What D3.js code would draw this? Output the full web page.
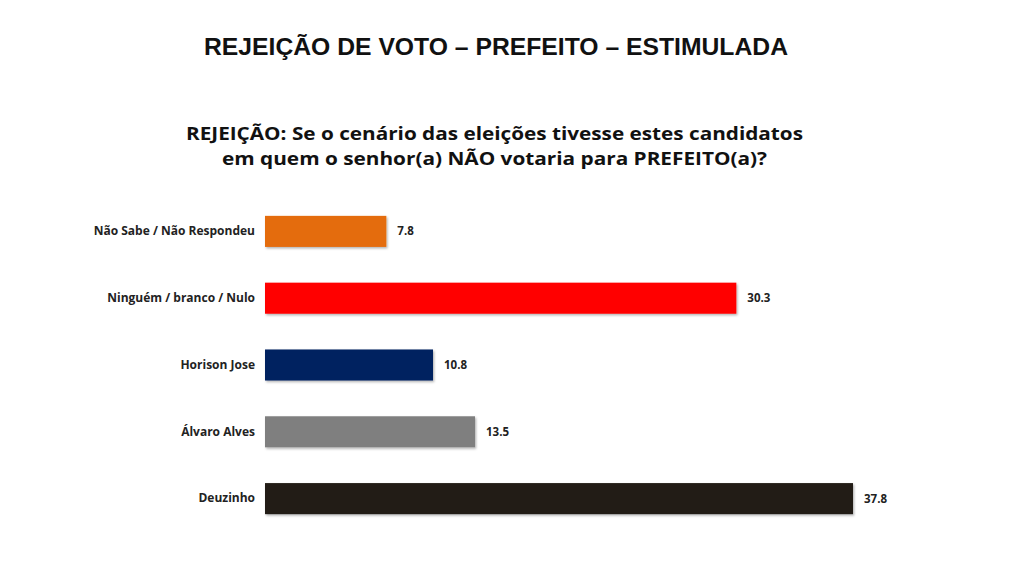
<!DOCTYPE html>
<html>
<head>
<meta charset="utf-8">
<script src="https://cdn.jsdelivr.net/npm/d3@7"></script>
<style>
  html, body { margin: 0; padding: 0; background: #ffffff; }
  svg { display: block; }
</style>
</head>
<body>
<svg id="chart" width="1024" height="571"></svg>
<script>
const title = "REJEIÇÃO DE VOTO – PREFEITO – ESTIMULADA";
const subtitleLines = [
  "REJEIÇÃO: Se o cenário das eleições tivesse estes candidatos",
  "em quem o senhor(a) NÃO votaria para PREFEITO(a)?"
];
const categories = ["Não Sabe / Não Respondeu", "Ninguém / branco / Nulo", "Horison Jose", "Álvaro Alves", "Deuzinho"];
const values = [7.8, 30.3, 10.8, 13.5, 37.8];
const colors = ["#E46C0A", "#FF0000", "#002060", "#7F7F7F", "#221E14"];

const svg = d3.select("#chart");

const defs = svg.append("defs");
const f = defs.append("filter").attr("id", "shadow").attr("x", "-5%").attr("y", "-20%").attr("width", "115%").attr("height", "150%");
f.append("feDropShadow").attr("dx", 1.2).attr("dy", 1.5).attr("stdDeviation", 1).attr("flood-color", "#000").attr("flood-opacity", 0.3);

// Title
svg.append("text")
  .attr("x", 496).attr("y", 55)
  .attr("text-anchor", "middle")
  .attr("font-family", "'Liberation Sans', Arial, sans-serif")
  .attr("font-weight", "bold")
  .attr("font-size", 24)
  .attr("fill", "#111")
  .attr("textLength", 584)
  .attr("lengthAdjust", "spacingAndGlyphs")
  .text(title);

// Subtitle
const subW = [617, 545];
svg.selectAll("text.sub").data(subtitleLines).join("text")
  .attr("class", "sub")
  .attr("x", 494.5)
  .attr("y", (d, i) => 139.5 + i * 25)
  .attr("text-anchor", "middle")
  .attr("font-family", "'Open Sans', sans-serif")
  .attr("font-weight", "bold")
  .attr("font-size", 18.2)
  .attr("fill", "#111")
  .attr("textLength", (d, i) => subW[i])
  .attr("lengthAdjust", "spacingAndGlyphs")
  .text(d => d);

const x = d3.scaleLinear().domain([0, 37.8]).range([265, 853]);
const y = d3.scaleBand().domain(categories).range([198, 532]).paddingInner(0.535).paddingOuter(0.2675);

svg.selectAll("rect.bar").data(values).join("rect")
  .attr("class", "bar")
  .attr("x", x(0))
  .attr("y", (d, i) => y(categories[i]))
  .attr("width", d => x(d) - x(0))
  .attr("height", y.bandwidth())
  .attr("fill", (d, i) => colors[i])
  .attr("filter", "url(#shadow)");

const yAxis = d3.axisLeft(y).tickSize(0).tickPadding(10);
const ga = svg.append("g").attr("transform", `translate(${x(0)},0)`).call(yAxis);
ga.select(".domain").remove();
ga.selectAll("text")
  .attr("font-family", "'Open Sans', sans-serif")
  .attr("font-weight", "bold")
  .attr("font-size", 12)
  .attr("fill", "#222");

svg.selectAll("text.val").data(values).join("text")
  .attr("class", "val")
  .attr("x", d => x(d) + 11)
  .attr("y", (d, i) => y(categories[i]) + y.bandwidth() / 2)
  .attr("dy", "0.35em")
  .attr("font-family", "'Open Sans', sans-serif")
  .attr("font-weight", "bold")
  .attr("font-size", 11.5)
  .attr("fill", "#222")
  .text(d => d.toFixed(1));
</script>
</body>
</html>
